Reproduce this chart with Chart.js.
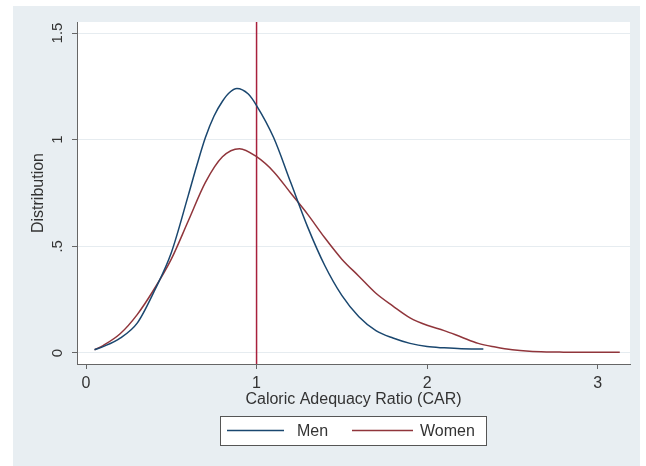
<!DOCTYPE html>
<html>
<head>
<meta charset="utf-8">
<script src="https://cdn.jsdelivr.net/npm/chart.js@4"></script>
<style>
  html, body { margin: 0; padding: 0; background: #fff; }
  canvas { display: block; }
</style>
</head>
<body>
<canvas id="densityChart" width="646" height="466"></canvas>
<script>
// kernel density estimates
const menX = [0.05, 0.1, 0.2, 0.3, 0.4, 0.5, 0.6, 0.65, 0.7, 0.75, 0.8, 0.84, 0.885, 0.95, 1.0, 1.1, 1.2, 1.3, 1.4, 1.5, 1.6, 1.7, 1.8, 1.9, 2.0, 2.1, 2.2, 2.33];
const menY = [0.015, 0.03, 0.07, 0.14, 0.29, 0.47, 0.74, 0.88, 1.01, 1.11, 1.18, 1.22, 1.24, 1.215, 1.16, 1.01, 0.80, 0.59, 0.41, 0.27, 0.17, 0.105, 0.07, 0.045, 0.03, 0.024, 0.02, 0.019];

const womenX = [0.05, 0.1, 0.2, 0.3, 0.4, 0.5, 0.6, 0.7, 0.8, 0.9, 1.0, 1.1, 1.2, 1.3, 1.4, 1.5, 1.6, 1.7, 1.8, 1.9, 2.0, 2.1, 2.2, 2.3, 2.4, 2.5, 2.6, 2.7, 2.8, 3.0, 3.13];
const womenY = [0.015, 0.035, 0.09, 0.18, 0.30, 0.44, 0.62, 0.80, 0.92, 0.958, 0.92, 0.85, 0.75, 0.65, 0.54, 0.44, 0.36, 0.28, 0.22, 0.165, 0.13, 0.105, 0.075, 0.045, 0.028, 0.015, 0.008, 0.005, 0.004, 0.003, 0.003];

const xTicks = [0, 1, 2, 3];
const yTicks = [0, 0.5, 1, 1.5];
const yTickLabels = ['0', '.5', '1', '1.5'];
const refLineX = 1;

const seriesNames = ['Men', 'Women'];
const seriesColors = ['#1a476f', '#90353b'];

const FONT = '"Liberation Sans", Arial, sans-serif';
const TEXT = '#333333';

function toPoints(xs, ys) {
    return xs.map((x, i) => ({ x: x, y: ys[i] }));
}

// backgrounds, rotated y tick labels, reference line and framed legend
const stataLook = {
    id: 'stataLook',
    beforeDraw(chart) {
        const ctx = chart.ctx;
        const a = chart.chartArea;
        ctx.save();
        ctx.fillStyle = '#e8eef2';
        ctx.fillRect(13, 6, 627, 460);
        ctx.fillStyle = '#ffffff';
        ctx.fillRect(a.left, a.top, a.right - a.left, a.bottom - a.top);
        ctx.restore();
    },
    beforeDatasetsDraw(chart) {
        const ctx = chart.ctx;
        const a = chart.chartArea;
        const px = chart.scales.x.getPixelForValue(refLineX);
        ctx.save();
        ctx.strokeStyle = '#a8203c';
        ctx.lineWidth = 1.5;
        ctx.beginPath();
        ctx.moveTo(px, a.top);
        ctx.lineTo(px, a.bottom);
        ctx.stroke();
        ctx.restore();
    },
    afterDraw(chart) {
        const ctx = chart.ctx;
        const yScale = chart.scales.y;
        ctx.save();
        ctx.fillStyle = TEXT;
        ctx.font = '15px ' + FONT;
        ctx.textAlign = 'center';
        ctx.textBaseline = 'middle';
        yTicks.forEach((v, i) => {
            const py = yScale.getPixelForValue(v);
            ctx.save();
            ctx.translate(58, py);
            ctx.rotate(-Math.PI / 2);
            ctx.fillText(yTickLabels[i], 0, 0);
            ctx.restore();
        });

        // legend box
        const box = { left: 220, top: 416, width: 266, height: 29 };
        ctx.fillStyle = '#ffffff';
        ctx.fillRect(box.left, box.top, box.width, box.height);
        ctx.strokeStyle = '#555555';
        ctx.lineWidth = 1;
        ctx.strokeRect(box.left + 0.5, box.top + 0.5, box.width, box.height);

        const items = [
            { x1: 227, x2: 284, tx: 297 },
            { x1: 352, x2: 413, tx: 420 }
        ];
        const ly = box.top + box.height / 2;
        ctx.textAlign = 'left';
        ctx.font = '16px ' + FONT;
        items.forEach((it, i) => {
            ctx.strokeStyle = seriesColors[i];
            ctx.lineWidth = 1.5;
            ctx.beginPath();
            ctx.moveTo(it.x1, ly);
            ctx.lineTo(it.x2, ly);
            ctx.stroke();
            ctx.fillStyle = TEXT;
            ctx.fillText(seriesNames[i], it.tx, ly + 1);
        });
        ctx.restore();
    }
};

const ctx = document.getElementById('densityChart').getContext('2d');
const densityChart = new Chart(ctx, {
    type: 'scatter',
    data: {
        datasets: [
            {
                label: seriesNames[0],
                data: toPoints(menX, menY),
                showLine: true,
                borderColor: seriesColors[0],
                borderWidth: 1.5,
                pointRadius: 0,
                cubicInterpolationMode: 'monotone'
            },
            {
                label: seriesNames[1],
                data: toPoints(womenX, womenY),
                showLine: true,
                borderColor: seriesColors[1],
                borderWidth: 1.5,
                pointRadius: 0,
                cubicInterpolationMode: 'monotone'
            }
        ]
    },
    options: {
        responsive: false,
        animation: false,
        devicePixelRatio: 1,
        layout: { padding: { left: 0, top: 22, right: 16, bottom: 53 } },
        plugins: {
            legend: { display: false },
            tooltip: { enabled: false }
        },
        scales: {
            x: {
                type: 'linear',
                min: -0.053,
                max: 3.19,
                afterBuildTicks: scale => { scale.ticks = xTicks.map(v => ({ value: v })); },
                afterFit: scale => { scale.height = 49; },
                ticks: {
                    color: TEXT,
                    font: { family: FONT, size: 16 },
                    padding: 5,
                    maxRotation: 0,
                    callback: v => String(v)
                },
                grid: {
                    drawOnChartArea: false,
                    drawTicks: true,
                    tickLength: 5,
                    tickColor: '#666666'
                },
                border: { display: true, color: '#666666', width: 1 },
                title: {
                    display: true,
                    text: 'Caloric Adequacy Ratio (CAR)',
                    color: TEXT,
                    font: { family: FONT, size: 16 },
                    padding: { top: 0, bottom: 4 }
                }
            },
            y: {
                type: 'linear',
                min: -0.0516,
                max: 1.5516,
                afterBuildTicks: scale => { scale.ticks = yTicks.map(v => ({ value: v })); },
                afterFit: scale => { scale.width = 77; },
                ticks: { display: false },
                grid: {
                    color: '#e6ecf0',
                    lineWidth: 1,
                    drawTicks: true,
                    tickLength: 5,
                    tickColor: '#666666'
                },
                border: { display: true, color: '#666666', width: 1 },
                title: {
                    display: true,
                    text: 'Distribution',
                    color: TEXT,
                    font: { family: FONT, size: 16 },
                    padding: { top: 29, bottom: 0 }
                }
            }
        }
    },
    plugins: [stataLook]
});
</script>
</body>
</html>
